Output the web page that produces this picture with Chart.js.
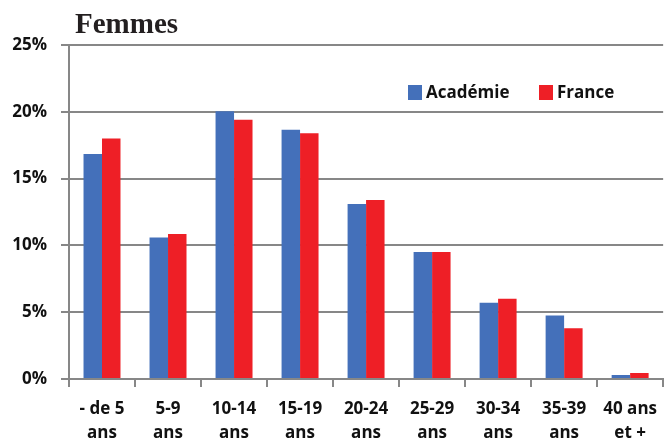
<!DOCTYPE html>
<html>
<head>
<meta charset="utf-8">
<script src="https://cdn.jsdelivr.net/npm/chart.js@4"></script>
<style>
  html, body { margin: 0; padding: 0; background: #fff; }
  #wrap { width: 667px; height: 443px; position: relative; }
</style>
</head>
<body>
<div id="wrap"><canvas id="femmesChart"></canvas></div>
<script>
// Age groups (two-line labels)
const ageGroups = [
  ['- de 5', 'ans'], ['5-9', 'ans'], ['10-14', 'ans'], ['15-19', 'ans'],
  ['20-24', 'ans'], ['25-29', 'ans'], ['30-34', 'ans'], ['35-39', 'ans'],
  ['40 ans', 'et +']
];
// Share of women per age group, in %
const academieValues = [16.85, 10.6, 20.05, 18.65, 13.1, 9.5, 5.7, 4.75, 0.3];
const franceValues = [18.0, 10.85, 19.4, 18.4, 13.4, 9.5, 6.0, 3.8, 0.45];
const yTicks = [0, 5, 10, 15, 20, 25];

const blue = '#4470BA';
const red = '#EE1F26';
const axisGrey = '#878787';
const labelFont = '"Open Sans", "Liberation Sans", sans-serif';

// Title + legend drawn inside the canvas
const decorations = {
  id: 'decorations',
  afterDraw(chart) {
    const ctx = chart.ctx;
    const area = chart.chartArea;
    ctx.save();
    ctx.fillStyle = '#231f20';
    ctx.font = 'bold 29px "Liberation Serif", serif';
    ctx.textBaseline = 'alphabetic';
    ctx.textAlign = 'left';
    ctx.fillText('Femmes', area.left + 6, 33);

    // legend
    ctx.font = 'bold 17px ' + labelFont;
    ctx.textBaseline = 'middle';
    let x = 408;
    const y = 92;
    chart.data.datasets.forEach(ds => {
      ctx.fillStyle = ds.backgroundColor;
      ctx.fillRect(x, y - 7, 14, 15);
      ctx.fillStyle = '#111';
      ctx.fillText(ds.label, x + 18, y + 1);
      x += 131;
    });
    ctx.restore();
  }
};

new Chart(document.getElementById('femmesChart'), {
  type: 'bar',
  data: {
    labels: ageGroups,
    datasets: [
      { label: 'Académie', data: academieValues, backgroundColor: blue },
      { label: 'France', data: franceValues, backgroundColor: red }
    ]
  },
  options: {
    responsive: true,
    maintainAspectRatio: false,
    animation: false,
    layout: { padding: { top: 45, right: 0, left: 0, bottom: 0 } },
    datasets: {
      bar: { categoryPercentage: 0.56, barPercentage: 1 }
    },
    plugins: {
      legend: { display: false },
      tooltip: { enabled: false }
    },
    scales: {
      x: {
        afterFit(scale) { scale.height = 64; },
        grid: {
          offset: true,
          drawOnChartArea: false,
          color: axisGrey,
          lineWidth: 2,
          tickLength: 8
        },
        border: { color: axisGrey, width: 2 },
        ticks: {
          color: '#111',
          font: { family: labelFont, size: 17, weight: 'bold', lineHeight: 1.4 },
          maxRotation: 0,
          autoSkip: false,
          padding: 10
        }
      },
      y: {
        min: 0,
        max: 25,
        afterFit(scale) { scale.width = 69; },
        afterBuildTicks(scale) {
          scale.ticks = yTicks.map(v => ({ value: v }));
        },
        grid: {
          color: axisGrey,
          lineWidth: 2,
          tickLength: 8
        },
        border: { color: axisGrey, width: 2 },
        ticks: {
          color: '#111',
          font: { family: labelFont, size: 17, weight: 'bold' },
          padding: 14,
          callback: v => v + '%'
        }
      }
    }
  },
  plugins: [decorations]
});
</script>
</body>
</html>
